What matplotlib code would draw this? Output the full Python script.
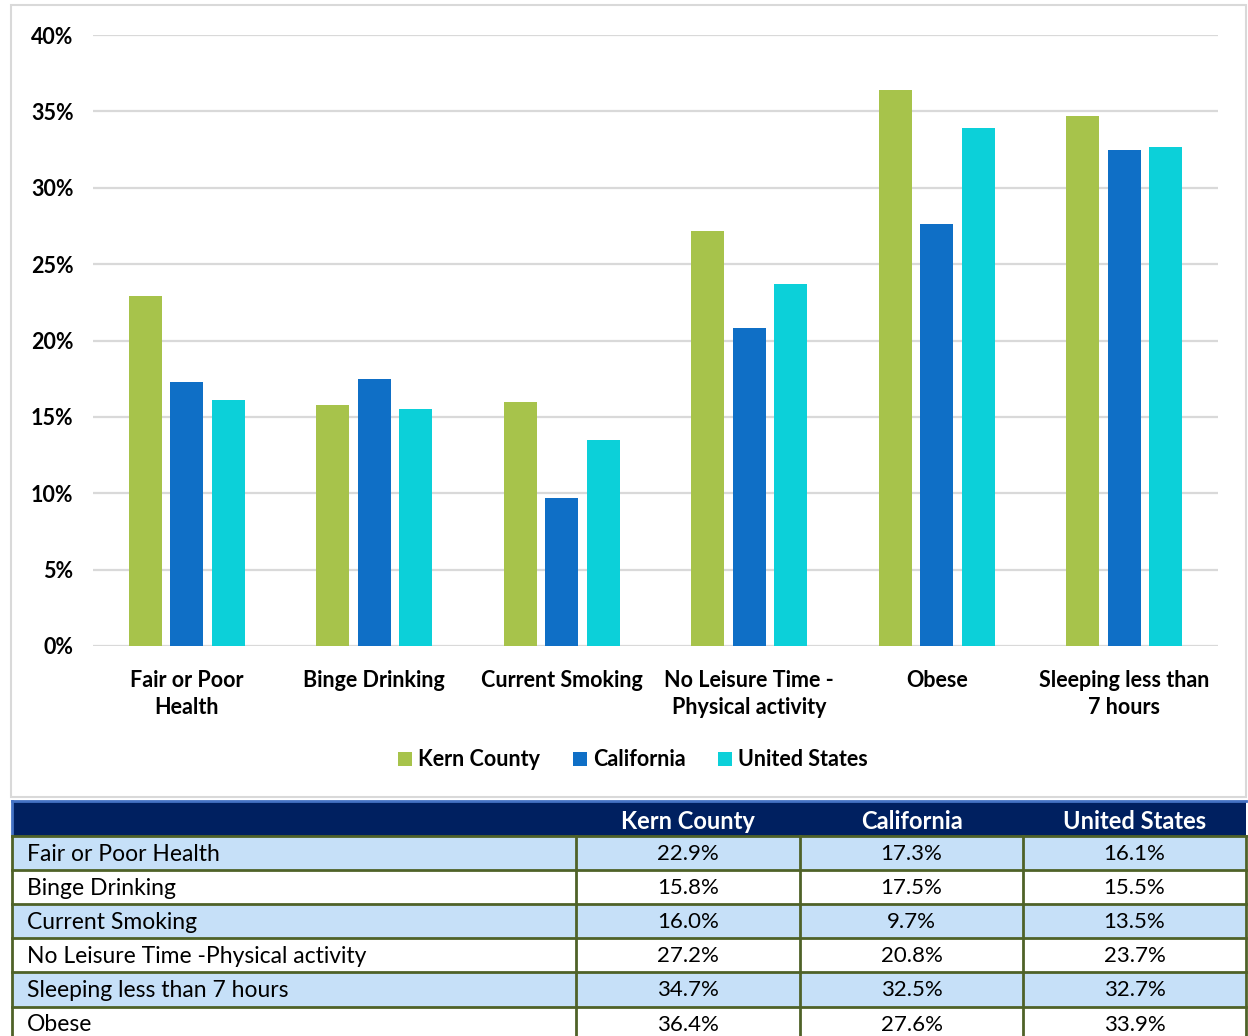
import matplotlib
matplotlib.use("Agg")
import matplotlib.pyplot as plt
from matplotlib.patches import Rectangle
import numpy as np

plt.rcParams['font.family'] = ['Lato', 'DejaVu Sans']

# Datos: porcentaje de adultos por indicador
categorias = ['Fair or Poor\nHealth', 'Binge Drinking', 'Current Smoking',
              'No Leisure Time -\nPhysical activity', 'Obese',
              'Sleeping less than\n7 hours']
kern = [22.9, 15.8, 16.0, 27.2, 36.4, 34.7]
california = [17.3, 17.5, 9.7, 20.8, 27.6, 32.5]
estados_unidos = [16.1, 15.5, 13.5, 23.7, 33.9, 32.7]
series = ['Kern County', 'California', 'United States']
colores = ['#A7C34B', '#0F6FC6', '#0CD0D9']

# Orden de las filas en la tabla (indices de categorias)
filas_tabla = ['Fair or Poor Health', 'Binge Drinking', 'Current Smoking',
               'No Leisure Time -Physical activity', 'Sleeping less than 7 hours',
               'Obese']
orden_tabla = [0, 1, 2, 3, 5, 4]

W, H = 1248, 1036
fig = plt.figure(figsize=(W / 100, H / 100), dpi=100)

# Capa de fondo en pixeles para el marco y la tabla
fondo = fig.add_axes([0, 0, 1, 1])
fondo.set_xlim(0, W)
fondo.set_ylim(H, 0)
fondo.axis('off')

# Marco del grafico
fondo.add_patch(Rectangle((11, 5), 1235, 792, fill=False, edgecolor='#D9D9D9', lw=1.5))

# Tabla
cols_x = [12, 576, 800, 1023, 1246]
y_header = 801
h_header = 35
h_fila = 34.1
navy = '#002060'
oliva = '#4F6228'
azul_claro = '#C6E0F8'

fondo.add_patch(Rectangle((cols_x[0], y_header), cols_x[-1] - cols_x[0], h_header,
                          facecolor=navy, edgecolor='none'))
fondo.plot([cols_x[0], cols_x[-1]], [y_header, y_header], color='#4472C4', lw=2)
fondo.plot([cols_x[0], cols_x[0]], [y_header, y_header + h_header], color='#4472C4', lw=2)
for j, nombre in enumerate(series):
    fondo.text((cols_x[j + 1] + cols_x[j + 2]) / 2, y_header + h_header / 2 + 3, nombre,
               color='white', fontsize=17, fontweight='bold', ha='center', va='center')

valores = [kern, california, estados_unidos]
for i, idx in enumerate(orden_tabla):
    y0 = y_header + h_header + i * h_fila
    color_fila = azul_claro if i % 2 == 0 else 'white'
    fondo.add_patch(Rectangle((cols_x[0], y0), cols_x[-1] - cols_x[0], h_fila,
                              facecolor=color_fila, edgecolor='none'))
    fondo.text(cols_x[0] + 15, y0 + h_fila / 2 + 1, filas_tabla[i], fontsize=16.5,
               ha='left', va='center', color='black')
    for j in range(3):
        fondo.text((cols_x[j + 1] + cols_x[j + 2]) / 2, y0 + h_fila / 2 + 1,
                   f'{valores[j][idx]:.1f}%', fontsize=16, ha='center', va='center',
                   color='black')

# Lineas de la tabla
y_fin = y_header + h_header + 6 * h_fila
for k in range(7):
    yy = y_header + h_header + k * h_fila
    fondo.plot([cols_x[0], cols_x[-1]], [yy, yy], color=oliva, lw=2)
for xx in cols_x:
    fondo.plot([xx, xx], [y_header + h_header, y_fin], color=oliva, lw=2)

# Grafico de barras
ax = fig.add_axes([93 / W, (H - 646) / H, 1125 / W, (646 - 35) / H])
ax.patch.set_alpha(0)
x = np.arange(len(categorias))
ancho = 0.176
desp = 0.221
for k, (datos, nombre, c) in enumerate(zip(valores, series, colores)):
    ax.bar(x + (k - 1) * desp, np.array(datos) / 100, ancho, color=c, label=nombre,
           zorder=3)

ax.set_xlim(-0.5, len(categorias) - 0.5)
ax.set_ylim(0, 0.40)
ax.set_yticks(np.arange(0, 0.41, 0.05))
ax.set_yticklabels([f'{int(round(v * 100))}%' for v in np.arange(0, 0.41, 0.05)],
                   fontsize=15.5, fontweight='bold')
ax.set_xticks(x)
ax.set_xticklabels(categorias, fontsize=15.5, fontweight='bold', linespacing=1.4,
                   va='top')
ax.tick_params(axis='both', length=0)
ax.tick_params(axis='y', pad=14)
ax.tick_params(axis='x', pad=17)
for s in ax.spines.values():
    s.set_visible(False)
ax.grid(axis='y', color='#D9D9D9', lw=1.6, zorder=0)
ax.set_axisbelow(True)

fig.legend(loc='center', bbox_to_anchor=(633 / W, (H - 760) / H), ncol=3,
           frameon=False, prop={'weight': 'bold', 'size': 15.5},
           handlelength=0.65, handleheight=0.65, handletextpad=0.3,
           columnspacing=1.5)

fig.savefig('out.png', dpi=100)
